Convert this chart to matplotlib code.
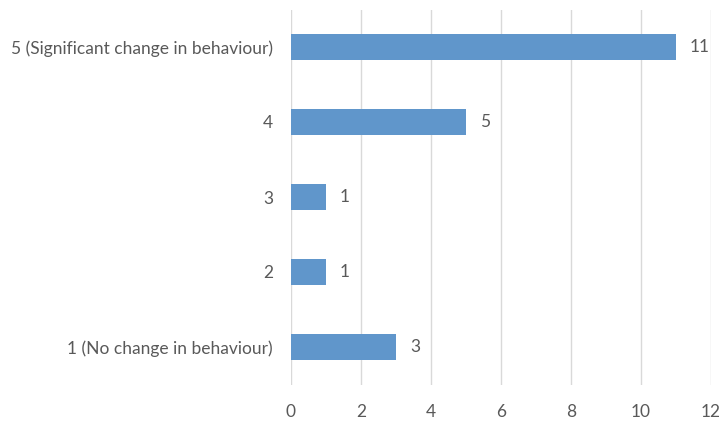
import matplotlib
matplotlib.use("Agg")
import matplotlib.pyplot as plt

categories = ["1 (No change in behaviour)", "2", "3", "4",
              "5 (Significant change in behaviour)"]
counts = [3, 1, 1, 5, 11]
x_ticks = [0, 2, 4, 6, 8, 10, 12]

plt.rcParams['font.family'] = ['Lato', 'DejaVu Sans']
text_grey = '#595959'
fs = 12.5

fig = plt.figure(figsize=(7.19, 4.22), dpi=100)
ax = fig.add_axes([291 / 719, 1 - 384.5 / 422, 420 / 719, 375 / 422])

bars = ax.barh(range(len(categories)), counts, height=0.35, color='#6096CB', zorder=3)

# value labels to the right of each bar
for rect, v in zip(bars, counts):
    ax.annotate(str(v), xy=(rect.get_width(), rect.get_y() + rect.get_height() / 2),
                xytext=(10, 0), textcoords='offset points',
                ha='left', va='center', fontsize=fs, color=text_grey)

ax.set_xlim(0, 12)
ax.set_ylim(-0.5, len(categories) - 0.5)
ax.set_xticks(x_ticks)
ax.set_yticks(range(len(categories)))
ax.set_yticklabels(categories)
ax.grid(axis='x', color='#D9D9D9', linewidth=1, zorder=0)
for s in ax.spines.values():
    s.set_visible(False)
ax.tick_params(length=0, labelsize=fs, labelcolor=text_grey)
ax.tick_params(axis='x', pad=14)
ax.tick_params(axis='y', pad=13)

fig.savefig("out.png", dpi=100)
